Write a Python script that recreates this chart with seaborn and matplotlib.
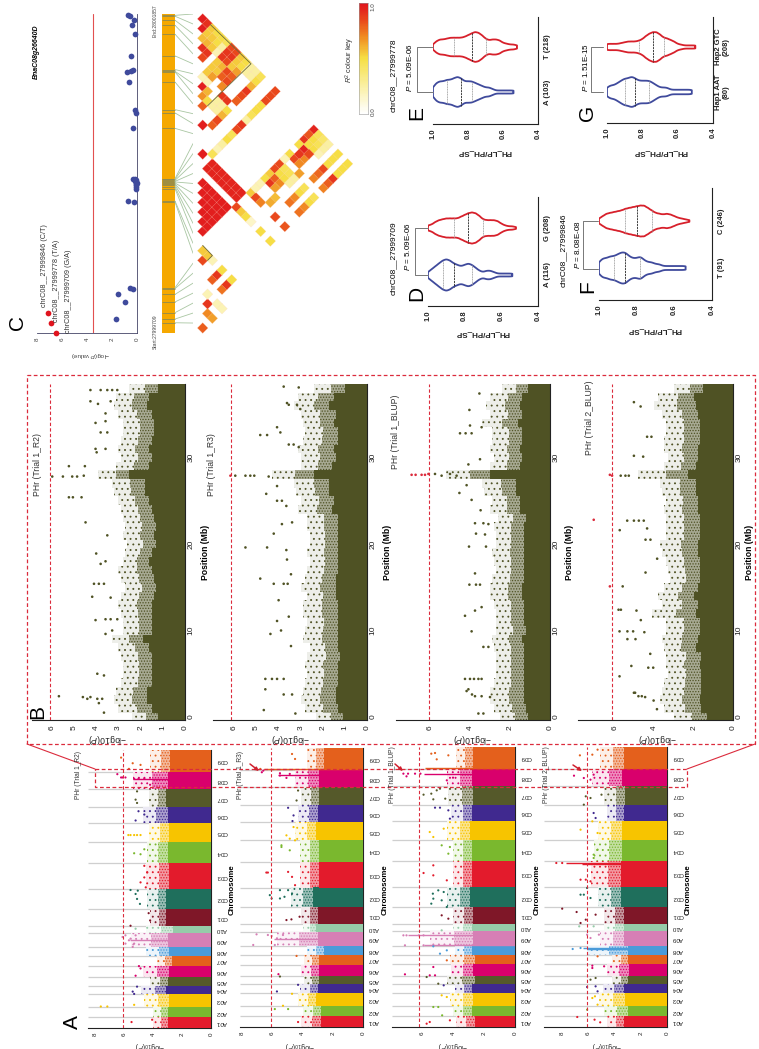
import numpy as np
import pandas as pd
import matplotlib
matplotlib.use("Agg")
import matplotlib.pyplot as plt
from matplotlib.colors import LinearSegmentedColormap, to_rgb
import seaborn as sns

W, H = 759, 1049

# chromosomes (panel A), sizes in Mb
chrom_names = ["A01", "A02", "A03", "A04", "A05", "A06", "A07", "A08", "A09", "A10",
               "C01", "C02", "C03", "C04", "C05", "C06", "C07", "C08", "C09"]
chrom_sizes = [32, 32, 38, 26, 26, 34, 29, 27, 43, 22, 51, 60, 78, 64, 56, 49, 55, 52, 66]
chrom_colors = ["#E31B2C", "#7AB82E", "#F7C400", "#40298F", "#55592A", "#D9006C", "#E4601C",
                "#4A9BD9", "#D67FB5", "#96CBA9", "#7F1728", "#1F6F5C", "#E31B2C", "#7AB82E",
                "#F7C400", "#40298F", "#55592A", "#D9006C", "#E4601C"]

# panel A: top of the solid band and of the speckled band, per chromosome
a1_solid = [3.0, 3.0, 2.9, 3.1, 3.0, 2.9, 2.7, 2.9, 3.0, 2.6, 3.1, 3.1, 2.9, 3.0, 2.9, 3.0, 3.1, 3.0, 2.8]
a1_fringe = [4.0, 4.0, 4.6, 4.8, 4.2, 4.7, 3.7, 4.5, 5.5, 4.5, 4.2, 4.4, 4.5, 4.4, 4.3, 4.7, 4.3, 5.4, 4.2]
a2_solid = [2.75, 2.75, 3.1, 3.0, 2.9, 2.9, 2.9, 2.6, 3.0, 3.1, 3.0, 3.3, 2.9, 2.9, 3.1, 3.0, 2.9, 2.9, 2.6]
a2_fringe = [4.1, 4.0, 4.3, 4.2, 3.9, 4.1, 3.9, 3.7, 5.7, 4.0, 4.1, 4.8, 4.2, 4.2, 4.5, 4.3, 4.1, 4.5, 3.7]
a3_solid = [2.6, 2.8, 2.7, 2.8, 2.6, 2.7, 2.6, 2.8, 2.7, 2.8, 2.7, 2.9, 2.8, 2.8, 2.9, 2.8, 2.7, 2.8, 2.7]
a3_fringe = [3.8, 4.0, 4.2, 3.9, 4.4, 4.1, 4.2, 3.9, 5.5, 4.0, 4.0, 4.4, 4.0, 4.0, 4.4, 4.1, 4.3, 4.4, 3.8]
a4_solid = [3.3, 3.0, 3.2, 3.3, 3.0, 2.9, 3.0, 3.0, 3.3, 3.3, 3.3, 3.5, 3.5, 3.4, 3.4, 3.3, 3.2, 3.4, 3.3]
a4_fringe = [4.6, 4.8, 5.2, 4.9, 4.2, 4.6, 4.2, 6.1, 5.1, 4.8, 4.8, 5.3, 5.8, 5.6, 5.3, 4.6, 4.8, 5.7, 5.1]

# panel A: single points (cumulative Mb, -log10 P)
a1_pos = [18, 25, 65, 65, 70, 103, 110, 125, 158, 187, 180, 255, 275, 280, 245, 265, 270, 255, 280,
          309, 300, 347, 325, 417, 405, 390, 415, 375, 490, 455, 425, 440, 470, 528, 525, 540,
          583, 583, 583, 583, 583, 627, 655, 645, 680, 690, 715, 757, 767, 757, 757, 753, 753,
          753, 735, 817, 783, 800, 795]
a1_val = [5.48, 4.06, 7.6, 7.15, 5.3, 5.3, 5.4, 5.1, 5.2, 4.97, 4.86, 5.9, 6.1, 5.9, 5.4, 5.66, 5.55, 5.3, 5.2,
          5.55, 5.2, 4.3, 4.2, 5.55, 5.2, 5.1, 5.05, 4.9, 4.6, 4.6, 4.5, 4.86, 4.4, 5.3, 4.86, 4.6,
          5.7, 5.55, 5.3, 5.1, 4.86, 5.2, 5.0, 4.6, 5.1, 5.2, 5.1, 6.2, 6.46, 6.1, 5.9, 5.3, 5.0,
          4.6, 4.2, 6.2, 5.66, 5.4, 4.86]
a2_pos = [15, 54, 54, 64, 100, 107, 127, 159, 152, 214, 247, 279, 277, 274, 247, 267, 277, 322, 324,
          332, 397, 387, 387, 392, 412, 402, 412, 465, 465, 467, 452, 427, 547, 542, 532, 562,
          577, 602, 567, 620, 660, 637, 682, 712, 777, 767, 772, 764, 750, 762, 757, 807, 822]
a2_val = [4.3, 4.96, 5.84, 5.3, 4.7, 5.7, 4.3, 5.6, 5.5, 4.4, 7.27, 7.05, 6.3, 6.05, 5.84, 5.7, 5.3, 5.07, 4.74,
          4.2, 6.17, 6.05, 5.5, 5.2, 4.96, 4.7, 5.5, 6.4, 6.3, 4.96, 4.7, 4.5, 5.4, 5.4, 4.85, 4.5,
          5.07, 4.6, 4.85, 4.67, 4.96, 4.6, 4.4, 4.3, 6.8, 6.7, 6.6, 5.5, 5.07, 4.85, 5.5, 4.5, 4.7]
a3_pos = [10, 15, 20, 60, 60, 35, 90, 95, 125, 130, 155, 150, 158, 155, 180, 200, 220, 230, 245, 245, 242,
          275, 275, 275, 275, 290, 335, 325, 370, 400, 385, 410, 380, 405, 360, 462, 455, 485, 440,
          540, 545, 520, 585, 570, 595, 658, 658, 650, 625, 697, 700, 683, 710, 685, 715,
          760, 752, 760, 760, 760, 740, 748, 822, 803, 820, 815]
a3_val = [5.7, 5.5, 4.2, 5.27, 4.95, 4.7, 4.4, 4.73, 4.6, 4.95, 5.16, 5.7, 7.1, 5.5, 5.27, 4.4, 4.84, 4.4, 7.1, 5.9, 5.27,
          7.2, 7.0, 6.2, 5.9, 4.73, 4.73, 4.3, 5.4, 5.3, 5.27, 4.95, 4.73, 4.6, 4.4, 5.9, 5.27, 5.27, 4.4,
          4.2, 4.73, 4.3, 5.5, 5.27, 4.6, 5.16, 4.84, 4.3, 4.2, 5.9, 5.4, 5.27, 5.05, 4.5, 4.84,
          7.2, 7.0, 6.9, 6.45, 6.1, 4.4, 4.0, 5.16, 5.05, 5.4, 4.3]
a4_pos = [30, 22, 14, 52, 87, 92, 67, 120, 122, 107, 142, 147, 184, 177, 212, 182, 234, 237, 277, 267, 277,
          302, 312, 302, 355, 345, 322, 337, 397, 397, 417, 387, 492, 492, 442, 442, 437, 517, 507, 532,
          592, 617, 582, 667, 642, 627, 692, 687, 697, 754, 747, 742, 757, 815, 817, 832]
a4_val = [6.85, 5.53, 5.1, 6.1, 5.7, 5.5, 5.3, 6.1, 5.45, 5.3, 5.84, 5.45, 5.7, 5.7, 5.3, 4.8, 7.2, 6.6, 6.1, 5.84, 5.2,
          6.7, 6.6, 5.6, 8.0, 6.9, 6.2, 5.45, 6.6, 6.35, 6.1, 5.84, 8.45, 8.0, 6.6, 6.2, 5.84, 5.6, 5.6, 5.3,
          6.6, 5.7, 5.3, 6.35, 5.6, 5.45, 6.2, 5.84, 5.0, 7.1, 6.35, 5.84, 5.6, 6.65, 5.7, 5.3]

# panel A: narrow peaks
a1_peak_pos, a1_peak_val = [267, 753], [5.6, 5.4]
a2_peak_pos, a2_peak_val = [265, 760, 778], [5.9, 5.6, 6.55]
a3_peak_pos, a3_peak_val = [245, 275, 760, 778], [5.9, 6.9, 5.9, 5.8]
a4_peak_pos, a4_peak_val = [234, 236, 490, 492], [6.1, 6.4, 6.5, 7.7]

# panel B: chromosome C08, one value per Mb from 0 to 38
b1_solid = [1.2, 1.5, 1.7, 1.7, 1.5, 1.5, 1.5, 1.5, 1.6, 1.9, 1.5, 1.5, 1.5, 1.5, 1.4, 1.3, 1.4, 1.5, 1.6, 1.5,
            1.3, 1.4, 1.3, 1.4, 1.5, 1.6, 1.8, 1.8, 2.5, 1.6, 1.5, 1.6, 1.5, 1.4, 1.4, 1.5, 1.7, 1.6, 1.2]
b1_fringe = [2.4, 3.0, 3.2, 3.1, 2.9, 2.8, 2.8, 2.9, 3.0, 3.3, 2.8, 2.8, 2.9, 3.0, 2.9, 2.7, 2.9, 3.0, 2.8, 2.7,
             2.6, 2.8, 2.7, 2.8, 2.9, 3.0, 3.2, 3.3, 3.9, 3.1, 2.9, 3.0, 2.9, 2.8, 2.8, 3.0, 3.2, 3.1, 2.5]
b2_solid = [1.1, 1.3, 1.4, 1.4, 1.3, 1.3, 1.3, 1.2, 1.3, 1.3, 1.3, 1.3, 1.3, 1.3, 1.4, 1.4, 1.4, 1.3, 1.3, 1.3,
            1.3, 1.3, 1.3, 1.3, 1.6, 1.5, 1.7, 1.7, 2.4, 1.6, 1.4, 1.5, 1.3, 1.3, 1.5, 1.4, 1.7, 1.5, 1.0]
b2_fringe = [2.3, 2.8, 3.0, 2.9, 2.8, 2.7, 2.8, 2.7, 2.6, 2.9, 2.8, 2.7, 2.9, 2.9, 2.7, 3.0, 2.8, 2.7, 2.6, 2.7,
             2.6, 2.6, 2.7, 2.7, 3.1, 3.0, 3.2, 3.3, 4.3, 3.0, 3.0, 3.1, 2.9, 2.8, 2.9, 3.0, 3.3, 3.1, 2.4]
b3_solid = [1.1, 1.2, 1.3, 1.3, 1.3, 1.3, 1.3, 1.3, 1.3, 1.4, 1.2, 1.3, 1.3, 1.3, 1.4, 1.4, 1.3, 1.3, 1.3, 1.3,
            1.3, 1.3, 1.3, 1.2, 1.5, 1.5, 1.7, 1.7, 3.0, 1.5, 1.4, 1.5, 1.4, 1.4, 1.6, 1.4, 1.5, 1.4, 1.1]
b3_fringe = [2.5, 2.8, 3.0, 3.0, 2.8, 2.7, 2.7, 2.7, 2.8, 2.9, 2.7, 2.7, 2.7, 2.8, 3.0, 3.0, 2.9, 2.7, 2.8, 2.9,
             2.7, 2.7, 2.8, 2.6, 3.0, 2.9, 3.3, 3.4, 5.2, 3.0, 2.8, 3.0, 2.9, 2.9, 3.4, 3.0, 3.2, 3.0, 2.4]
b4_solid = [1.3, 1.6, 1.7, 1.6, 1.6, 1.6, 1.7, 1.6, 1.9, 1.8, 1.7, 1.7, 1.9, 1.8, 2.0, 1.8, 1.7, 1.7, 1.7, 1.8,
            1.8, 1.7, 1.7, 1.7, 1.8, 1.8, 1.9, 1.9, 2.3, 1.9, 1.8, 1.8, 1.7, 1.7, 1.7, 1.8, 1.9, 2.0, 1.5]
b4_fringe = [3.0, 3.5, 3.7, 3.6, 3.5, 3.3, 3.4, 3.4, 3.5, 3.6, 3.4, 3.4, 4.1, 3.6, 3.8, 3.5, 3.2, 3.3, 3.4, 3.6,
             3.7, 3.4, 3.4, 3.4, 3.5, 3.4, 3.6, 3.7, 4.8, 3.5, 3.3, 3.5, 3.5, 3.4, 3.4, 3.6, 4.0, 3.8, 3.0]

# panel B: single points (Mb, -log10 P)
b1_mb = [37.8, 37.8, 37.8, 37.8, 37.8, 36.5, 36.2, 36.5, 35.1, 34.0, 34.2, 32.9, 32.9, 31.0, 30.6, 31.0, 29.0, 29.0,
         27.8, 27.8, 27.8, 27.8, 27.9, 25.4, 25.4, 25.4, 22.5, 18.9, 21.0, 17.7, 18.0, 15.4, 15.4, 15.4, 13.9, 13.8,
         11.2, 11.3, 11.3, 11.3, 9.6, 10.0, 5.0, 4.8, 2.4, 2.1, 2.1, 2.1, 2.3, 2.3, 1.6, 0.5]
b1_val = [4.26, 3.8, 3.5, 3.28, 3.05, 4.26, 3.92, 3.35, 3.58, 4.03, 3.58, 3.8, 3.5, 4.03, 3.98, 3.58, 5.23, 4.51,
          5.98, 5.5, 5.08, 4.86, 4.56, 5.23, 5.05, 4.66, 4.48, 4.0, 3.5, 3.8, 3.58, 4.1, 3.88, 3.65, 4.18, 3.35,
          4.03, 3.58, 3.35, 3.05, 3.58, 3.28, 3.95, 3.65, 5.68, 4.4, 3.95, 3.73, 4.6, 4.26, 3.88, 3.65]
b2_mb = [38.2, 38.1, 36.3, 36.1, 36.1, 35.6, 32.6, 32.6, 33.5, 32.9, 31.5, 31.5, 31.2, 27.9, 27.9, 27.9, 27.9, 27.9,
         27.8, 26.7, 25.8, 25.0, 25.0, 24.4, 22.3, 22.5, 21.2, 19.6, 19.6, 19.3, 18.2, 16.0, 15.4, 15.4, 15.4, 16.5,
         13.5, 9.6, 11.1, 10.0, 11.6, 8.2, 4.4, 4.4, 4.4, 4.4, 3.2, 2.6, 2.6, 0.8, 0.4]
b2_val = [3.77, 3.09, 3.62, 3.54, 3.17, 3.02, 4.83, 4.52, 4.07, 3.92, 3.54, 3.32, 3.09, 6.18, 5.96, 5.5, 5.28, 5.1,
          4.45, 4.07, 4.56, 4.07, 3.85, 3.65, 3.85, 3.39, 4.22, 5.5, 4.52, 3.65, 3.62, 4.83, 4.22, 3.77, 3.59, 3.44,
          4.0, 4.37, 4.07, 3.89, 3.54, 3.44, 4.6, 4.3, 4.07, 3.77, 4.6, 3.77, 3.39, 4.67, 3.24]
b3_mb = [28.0, 28.0, 28.0, 28.0, 28.1, 28.1, 27.9, 28.1, 27.9, 29.2, 29.8, 37.4, 35.5, 33.7, 32.8, 32.8, 32.8, 33.5,
         26.8, 25.9, 25.1, 23.9, 22.4, 22.4, 22.3, 21.2, 21.1, 19.7, 19.7, 16.6, 15.3, 15.3, 15.3, 11.7, 12.3, 12.7,
         9.9, 8.1, 8.1, 4.4, 4.4, 4.4, 4.4, 4.4, 3.2, 2.4, 2.4, 0.4, 0.4, 3.0, 2.6, 2.3]
b3_val = [6.92, 6.72, 6.42, 6.25, 6.08, 5.75, 5.42, 5.0, 4.67, 4.08, 3.5, 3.53, 4.03, 4.0, 4.5, 4.22, 3.92, 3.42,
          4.17, 4.53, 3.92, 3.47, 3.75, 3.33, 3.08, 3.7, 3.25, 4.05, 3.2, 3.75, 4.03, 3.7, 3.5, 4.25, 3.75, 3.42,
          3.92, 3.33, 3.08, 4.25, 4.0, 3.8, 3.58, 3.42, 4.08, 3.75, 3.42, 3.58, 3.33, 4.17, 3.9, 3.0]
b4_mb = [28.0, 27.9, 27.9, 27.9, 27.9, 36.4, 35.9, 30.2, 30.1, 32.4, 32.4, 22.8, 22.7, 22.7, 22.7, 22.7, 21.6, 21.8,
         20.5, 20.5, 18.3, 16.7, 15.1, 15.1, 12.4, 12.4, 12.3, 11.2, 9.9, 9.9, 9.9, 9.8, 9.0, 9.0, 5.9, 4.7, 2.8, 2.4,
         5.7, 5.7, 7.3, 2.8, 2.4, 2.3, 1.9, 0.9]
b4_val = [6.25, 6.14, 5.7, 5.46, 5.29, 5.03, 4.69, 5.03, 4.56, 4.36, 4.14, 7.07, 5.37, 5.03, 4.78, 4.53, 5.75, 4.36,
          4.44, 4.19, 3.85, 4.44, 6.25, 5.6, 5.81, 5.69, 4.9, 4.68, 5.76, 5.36, 5.07, 4.5, 5.36, 4.95, 5.16, 5.76, 5.03, 4.8,
          4.3, 4.05, 4.2, 4.97, 4.63, 4.46, 4.03, 3.86]

# panel C: association of the SNPs in the gene
c_sig_pos = [27999709, 27999778, 27999846]
c_sig_val = [6.45, 6.85, 7.15]
c_pos = [27999803, 27999918, 27999969, 28000008, 28000014, 28000591, 28000598, 28000681, 28000692,
         28000704, 28000712, 28000719, 28000726, 28000730, 28000737, 28000744, 28000748, 28001087,
         28001191, 28001213, 28001399, 28001467, 28001471, 28001483, 28001575, 28001721, 28001781,
         28001815, 28001842, 28001848]
c_val = [1.7, 1.0, 1.55, 0.3, 0.6, 0.27, 0.7, 0.05, 0.1, 0.05, 0.12, 0.03, 0.08, 0.15, 0.1, 0.2, 0.3, 0.35,
         0.1, 0.2, 0.65, 0.8, 0.45, 0.35, 0.5, 0.15, 0.4, 0.25, 0.55, 0.75]

# panel C: LD cells as (distance between the SNPs, middle of the pair, r2)
ld_low = [(0, 0, .8), (1, 3, .7), (2, 2, .65), (1, 5, .9), (1, 7, .2), (3, 5, .2), (4, 4, .2),
          (2, 10, .8), (3, 11, .9), (4, 12, .5), (4, 8, .75), (5, 9, .9), (6, 10, .5),
          (2, 14, .2), (0, 14, .85), (1, 15, .55), (0, 16, .55),
          (0, 20, .97), (0, 22, .97), (0, 24, .97), (0, 26, .97), (0, 28, .97), (0, 30, .97),
          (1, 21, .97), (1, 23, .97), (1, 25, .97), (1, 27, .97), (1, 29, .97),
          (2, 22, .97), (2, 24, .97), (2, 26, .97), (2, 28, .97), (3, 23, .97), (3, 25, .97), (3, 27, .97),
          (4, 24, .97), (4, 26, .97), (5, 25, .97),
          (7, 25, .85), (8, 24, .55), (9, 23, .5), (10, 22, .15), (12, 20, .5), (14, 18, .5), (15, 23, .85), (17, 21, .82)]
ld_mid = [(1, 33, .95), (2, 32, .95), (3, 31, .95), (4, 30, .95), (5, 29, .95), (6, 28, .95), (7, 27, .95),
          (2, 34, .95), (3, 33, .95), (4, 32, .95), (5, 31, .95), (6, 30, .95), (7, 29, .95), (8, 28, .95),
          (10, 28, .55), (11, 27, .85), (12, 26, .72), (11, 29, .2), (12, 30, .2), (13, 31, .5), (14, 32, .55),
          (14, 30, .9), (15, 31, .8), (16, 30, .7), (15, 29, .65), (15, 33, .85), (16, 34, .85),
          (16, 32, .5), (17, 33, .45), (17, 31, .5), (18, 32, .45), (19, 31, .25), (18, 30, .25), (20, 32, .65),
          (15, 27, .58), (14, 26, .62), (21, 29, .45), (20, 28, .5), (19, 27, .7), (18, 26, .75),
          (23, 27, .45), (22, 26, .5), (21, 25, .7), (20, 24, .75),
          (23, 31, .72), (24, 32, .78), (25, 33, .85), (26, 34, .5), (27, 35, .5), (28, 36, .5),
          (25, 29, .72), (26, 30, .8), (27, 31, .9), (28, 32, .5), (29, 33, .5), (30, 34, .5),
          (23, 41, .95), (21, 39, .9), (22, 40, .82), (20, 38, .5), (21, 37, .95), (22, 38, .5), (23, 39, .5),
          (24, 40, .45), (23, 37, .5), (24, 38, .45), (25, 39, .4), (26, 38, .25), (25, 37, .25), (24, 36, .2),
          (18, 36, .5), (19, 35, .85), (21, 35, .7), (20, 36, .9), (22, 36, .85), (20, 34, .7), (17, 35, .2)]
ld_high = [(0, 64, .97), (0, 62, .97), (0, 60, .58), (0, 58, .92), (0, 56, .85), (0, 52, .2), (0, 50, .97),
           (0, 48, .68), (0, 46, .8), (0, 42, .97), (0, 36, .97),
           (1, 63, .92), (1, 61, .55), (1, 59, .6), (1, 57, .9), (1, 49, .6), (1, 47, .5), (1, 53, .55), (1, 51, .2),
           (2, 62, .55), (3, 61, .5), (4, 60, .5), (5, 59, .45), (2, 60, .55), (3, 59, .5), (4, 58, .25),
           (2, 58, .55), (3, 57, .2), (6, 58, .85), (5, 57, .9), (7, 57, .85), (4, 56, .9), (6, 56, .9), (5, 55, .85),
           (8, 56, .55), (9, 55, .5), (7, 55, .55), (8, 54, .5), (6, 54, .55), (7, 53, .65),
           (2, 54, .55), (3, 55, .55), (4, 54, .6), (3, 53, .55), (2, 52, .65),
           (5, 53, .85), (4, 52, .8), (6, 52, .8), (5, 51, .85), (4, 50, .7),
           (9, 53, .25), (10, 54, .25), (11, 53, .25), (10, 52, .25), (12, 52, .45), (11, 51, .5), (10, 50, .6),
           (4, 48, .9), (5, 47, .9), (9, 49, .9), (8, 48, .85), (7, 47, .8),
           (15, 49, .85), (14, 48, .85), (13, 47, .85), (12, 46, .5), (11, 45, .5), (10, 44, .45), (9, 43, .25),
           (8, 42, .9), (7, 41, .85), (6, 40, .45), (5, 39, .5),
           (2, 46, .25), (3, 47, .25), (3, 45, .25), (4, 46, .25), (5, 45, .5), (4, 44, .6),
           (2, 42, .8), (3, 43, .85), (4, 38, .25), (3, 37, .2), (2, 36, .45)]

# panels D-G: how many lines fall in each PH ratio class
ratio_bins = [1.0, .98, .96, .94, .92, .90, .88, .86, .84, .82, .80, .78, .76, .74, .72, .70, .68, .66, .64, .62,
              .60, .58, .56, .54, .52, .50]
d_a = [2, 4, 6, 8, 10, 11, 10, 8, 7, 6, 7, 8, 7, 5, 3, 2, 3, 3, 2, 1, 1, 1, 1, 1, 0, 0]
d_g = [3, 4, 7, 9, 10, 11, 11, 11, 11, 13, 15, 17, 18, 17, 14, 10, 9, 9, 9, 8, 5, 3, 2, 2, 1, 0]
e_a = [3, 6, 7, 7, 8, 8, 9, 10, 9, 7, 7, 7, 6, 5, 4, 3, 3, 2, 1, 1, 1, 1, 1, 1, 0, 0]
e_t = [3, 7, 9, 9, 10, 11, 11, 11, 11, 12, 14, 16, 18, 17, 14, 10, 8, 9, 9, 8, 5, 4, 3, 3, 2, 0]
f_t = [3, 5, 5, 6, 6, 7, 8, 8, 6, 5, 5, 6, 4, 3, 3, 2, 2, 1, 1, 1, 1, 1, 1, 1, 0, 0]
f_c = [3, 6, 9, 10, 11, 12, 13, 15, 16, 17, 18, 19, 19, 16, 13, 10, 9, 8, 9, 8, 6, 4, 3, 2, 1, 0]
g_1 = [2, 3, 3, 4, 5, 6, 6, 7, 6, 5, 5, 5, 5, 4, 3, 2, 2, 2, 1, 1, 1, 1, 1, 1, 1, 0]
g_2 = [4, 4, 4, 4, 5, 6, 7, 7, 7, 8, 10, 14, 17, 19, 19, 16, 12, 11, 9, 7, 4, 3, 2, 2, 2, 2]

OLIVE = "#4F5224"
RED = "#DB2B3C"
BLUE = "#3F4A9C"
VRED = "#D7202B"

sns.set_theme(style="white")
plt.rcParams["font.family"] = ["Liberation Sans", "DejaVu Sans"]
plt.rcParams["mathtext.fontset"] = "custom"
plt.rcParams["mathtext.rm"] = "Liberation Sans"
plt.rcParams["mathtext.it"] = "Liberation Sans:italic"
plt.rcParams["hatch.linewidth"] = 0.6

fig = plt.figure(figsize=(W / 100, H / 100), dpi=100, facecolor="white")


def px_axes(x0, y0, x1, y1):
    ax = fig.add_axes([x0 / W, 1 - y1 / H, (x1 - x0) / W, (y1 - y0) / H])
    ax.patch.set_alpha(0)
    return ax


def tint(color, amount):
    # colour mixed with white, for the bands under the speckle
    return tuple(1 - (1 - c) * amount for c in to_rgb(color))


def style_ticks(ax, size=4.5, col="#222222"):
    ax.tick_params(axis="both", length=2, width=0.6, pad=1.5, labelsize=size, colors=col)
    for s in ax.spines.values():
        s.set_linewidth(0.8)
        s.set_color("#222222")


# ---- panel A ----
starts = np.concatenate([[0], np.cumsum(chrom_sizes)[:-1]])
sizes = np.array(chrom_sizes)
ends = starts + sizes
mids = starts + sizes / 2


def manhattan(rect, zero, unit, solid, fringe, pos, val, peak_pos, peak_val, ticks, thresh):
    x0, y0, y1 = rect
    ax = px_axes(x0, y0, zero, y1)
    solid = np.array(solid)
    fringe = np.array(fringe)
    half = solid + (fringe - solid) * 0.45
    ax.hlines(ends[:-1], 0, (zero - x0) / unit, color="#cfcfcf", lw=0.9, zorder=0)
    ax.barh(mids, solid, height=sizes, color=chrom_colors, linewidth=0, zorder=3)
    for i in range(len(sizes)):
        c = chrom_colors[i]
        ax.barh(mids[i], half[i] - solid[i], left=solid[i], height=sizes[i], facecolor=tint(c, 0.45),
                edgecolor=c, hatch="......", linewidth=0, zorder=2)
        ax.barh(mids[i], fringe[i] - half[i], left=half[i], height=sizes[i], facecolor=tint(c, 0.1),
                edgecolor=c, hatch="...", linewidth=0, zorder=2)
    df = pd.DataFrame({"pos": pos, "val": val})
    df["chrom"] = [chrom_names[i] for i in np.searchsorted(ends, df["pos"], side="right")]
    sns.scatterplot(data=df, x="val", y="pos", hue="chrom", palette=dict(zip(chrom_names, chrom_colors)),
                    s=2.5, linewidth=0, legend=False, ax=ax, zorder=4)
    for p, v in zip(peak_pos, peak_val):
        ax.hlines(p, 0, v, color=chrom_colors[np.searchsorted(ends, p, side="right")], lw=1.0, zorder=3)
    ax.axvline(thresh, color=RED, lw=0.8, ls=(0, (3, 2)), zorder=5)
    ax.set_xlim((zero - x0) / unit, 0)
    ax.set_ylim(0, sum(chrom_sizes))
    ax.set(xlabel=None, ylabel=None)
    ax.yaxis.tick_right()
    ax.set_yticks(mids, labels=chrom_names, rotation=180, va="center")
    ax.set_xticks(ticks, labels=[str(t) for t in ticks], rotation=90, ha="center")
    sns.despine(ax=ax, left=True, top=True, right=False, bottom=False)
    style_ticks(ax)


manhattan((88, 750, 1028), 211, 14.5, a1_solid, a1_fringe, a1_pos, a1_val, a1_peak_pos, a1_peak_val, [0, 2, 4, 6, 8], 6.1)
manhattan((240, 748, 1027), 363, 15.1, a2_solid, a2_fringe, a2_pos, a2_val, a2_peak_pos, a2_peak_val, [0, 2, 4, 6, 8], 6.1)
manhattan((392, 747, 1027), 515, 15.5, a3_solid, a3_fringe, a3_pos, a3_val, a3_peak_pos, a3_peak_val, [0, 2, 4, 6], 6.2)
manhattan((544, 747, 1027), 667, 13.1, a4_solid, a4_fringe, a4_pos, a4_val, a4_peak_pos, a4_peak_val, [0, 2, 4, 6, 8], 6.1)


# ---- panel B ----
def c08_panel(x0, zero, unit, solid, fringe, mb, val, ticks, thresh):
    ax = px_axes(x0, 384, zero, 720)
    edges = np.arange(len(solid) + 1) - 0.5
    solid = np.append(solid, solid[-1])
    fringe = np.append(fringe, fringe[-1])
    half = solid + (fringe - solid) * 0.45
    ax.fill_betweenx(edges, half, fringe, step="post", facecolor=tint(OLIVE, 0.1), edgecolor=OLIVE, hatch="...",
                     linewidth=0, zorder=1)
    ax.fill_betweenx(edges, solid, half, step="post", facecolor=tint(OLIVE, 0.5), edgecolor=OLIVE, hatch="......",
                     linewidth=0, zorder=1)
    ax.fill_betweenx(edges, 0, solid, step="post", color=OLIVE, linewidth=0, zorder=2)
    df = pd.DataFrame({"mb": mb, "val": val})
    df["hit"] = df["val"] > thresh - 0.05
    sns.scatterplot(data=df, x="val", y="mb", hue="hit", palette={True: RED, False: OLIVE}, s=3.5, linewidth=0,
                    legend=False, ax=ax, zorder=3)
    ax.axvline(thresh, color=RED, lw=0.8, ls=(0, (3, 2)), zorder=4)
    ax.set_xlim((zero - x0) / unit, 0)
    ax.set_ylim(-0.35, 38.5)
    ax.set(xlabel=None, ylabel=None)
    ax.yaxis.tick_right()
    ax.set_yticks([0, 10, 20, 30], labels=["0", "10", "20", "30"], rotation=90, va="center")
    ax.set_xticks(ticks, labels=[str(t) for t in ticks], rotation=90, ha="center")
    sns.despine(ax=ax, left=True, top=True, right=False, bottom=False)
    style_ticks(ax, size=6)
    ax.tick_params(axis="y", length=1.5, pad=0.5)
    ax.tick_params(axis="x", length=2.5)


c08_panel(32, 185, 22.2, b1_solid, b1_fringe, b1_mb, b1_val, [0, 1, 2, 3, 4, 5, 6], 6.1)
c08_panel(213, 367, 22.1, b2_solid, b2_fringe, b2_mb, b2_val, [0, 1, 2, 3, 4, 5, 6], 6.15)
c08_panel(396, 550, 20.0, b3_solid, b3_fringe, b3_mb, b3_val, [0, 2, 4, 6], 6.05)
c08_panel(578, 733, 19.7, b4_solid, b4_fringe, b4_mb, b4_val, [0, 2, 4, 6], 6.15)

# ---- panel C ----
all_pos = c_sig_pos + c_pos
span = (27999709, 28001857)
ax = px_axes(37, 14, 137, 333)
ax.axvline(3.5, color="#E25050", lw=0.8, zorder=1)
sns.scatterplot(x=c_val, y=c_pos, color=BLUE, s=17, linewidth=0, legend=False, ax=ax, zorder=3, clip_on=False)
sns.scatterplot(x=c_sig_val, y=c_sig_pos, color="#E0141E", s=17, linewidth=0, legend=False, ax=ax, zorder=3, clip_on=False)
ax.set_xlim(8, 0)
ax.set_ylim(*span)
ax.set(xlabel=None, ylabel=None)
ax.set_yticks([])
ax.set_xticks([0, 2, 4, 6, 8], labels=["0", "2", "4", "6", "8"], rotation=90, ha="center")
sns.despine(ax=ax, left=True, top=True, right=False, bottom=False)
style_ticks(ax, size=4.5, col="#444444")
for s in ax.spines.values():
    s.set_linewidth(0.6)
    s.set_color("#444466")

# gene bar and the lines that join the SNPs to the LD triangle
ax = px_axes(162, 14, 193, 333)
ax.set_xlim(0, 31)
ax.set_ylim(*span)
ax.axis("off")
ax.axvspan(0, 13, color="#F5A800", lw=0)
snps = sorted(all_pos)
ax.hlines(snps, 0, 13, color="#8E8A50", lw=0.6)
base = np.linspace(span[0], span[1], len(snps))
for p, b in zip(snps, base):
    ax.plot([13, 31], [p, b], color="#A9C6A2", lw=0.6)

# LD triangle
ld_cells = ld_low + ld_mid + ld_high
ld = pd.DataFrame(ld_cells, columns=["lag", "mid", "r2"])
r2_cmap = LinearSegmentedColormap.from_list(
    "r2", [(0, "#FFFFFF"), (.2, "#FBF3B5"), (.5, "#F6DF45"), (.7, "#F08A22"), (.85, "#E9481C"), (1, "#E0141E")])
ax = px_axes(195, 8, 372, 340)
sns.scatterplot(data=ld, x="lag", y="mid", hue="r2", palette=r2_cmap, hue_norm=(0, 1), marker="D", s=30,
                edgecolor="#FFD9C8", linewidth=0.15, legend=False, ax=ax)
ax.plot([1.6, 10, 1], [62.8, 54.7, 46], color="#6B6B3A", lw=0.6)
ax.plot([0, 2, 1], [17.1, 15, 14], color="#6B6B3A", lw=0.6)
ax.set_xlim((195 - 202.7) / 4.83, (372 - 202.7) / 4.83)
ax.set_ylim((328 - 340) / 4.83, (328 - 8) / 4.83)
ax.axis("off")

# R2 colour key
ax = px_axes(359, 3, 368, 114)
key = np.linspace(1, 0, 100).reshape(-1, 1)
sns.heatmap(key, cmap=r2_cmap, vmin=0, vmax=1, cbar=False, xticklabels=False, yticklabels=False, ax=ax)
for s in ax.spines.values():
    s.set_visible(True)
    s.set_linewidth(0.4)
    s.set_color("#999999")


# ---- panels D-G ----
def ratio_violin(rect, lower, upper, names, labels, y_lo, y_up, rows_font=5.5):
    x0, y0, x1, y1 = rect
    df = pd.DataFrame({
        "ratio": np.repeat(ratio_bins * 2, np.concatenate([upper, lower])),
        "group": np.repeat([names[1], names[0]], [sum(upper), sum(lower)]),
    })
    ax = px_axes(x0, y0, x1, y1)
    sns.violinplot(data=df, x="ratio", y="group", order=[names[1], names[0]], hue="group",
                   hue_order=[names[1], names[0]], palette={names[1]: VRED, names[0]: BLUE}, fill=False,
                   inner="quart", cut=0, bw_adjust=0.3, density_norm="width", width=0.66, linewidth=1.3,
                   legend=False, orient="h", ax=ax)
    for i, line in enumerate(ax.lines):
        line.set_color("#222222" if i % 3 == 1 else "#999999")
        line.set_linewidth(0.6)
    ax.set_xlim(1.0, 0.4)
    gap = y_lo - y_up
    ax.set_ylim((y1 - y_up) / gap, (y0 - y_up) / gap)
    ax.set(xlabel=None, ylabel=None)
    ax.yaxis.tick_right()
    ax.set_yticks([0, 1], labels=[labels[1], labels[0]], rotation=90, va="center", ha="center",
                  fontweight="bold", linespacing=1.1)
    ax.set_xticks([1.0, 0.8, 0.6, 0.4], labels=["1.0", "0.8", "0.6", "0.4"], rotation=90, ha="center")
    sns.despine(ax=ax, left=True, top=True, right=False, bottom=False)
    style_ticks(ax, size=rows_font)
    ax.tick_params(axis="x", labelsize=5.5)
    ax.tick_params(axis="y", pad=5)
    for t in ax.get_xticklabels():
        t.set_fontweight("bold")


ratio_violin((428, 197, 538, 306), d_a, d_g, ["A", "G"], ["A (116)", "G (208)"], 275, 228)
ratio_violin((433, 17, 538, 124), e_a, e_t, ["A", "T"], ["A (103)", "T (218)"], 92, 47)
ratio_violin((599, 188, 712, 300), f_t, f_c, ["T", "C"], ["T (91)", "C (246)"], 268, 221)
ratio_violin((607, 17, 713, 123), g_1, g_2, ["Hap1", "Hap2"], ["Hap1 AAT\n(80)", "Hap2 GTC\n(208)"], 92, 47)

# ---- everything placed straight on the page ----
ov = px_axes(0, 0, W, H)
ov.set_xlim(0, W)
ov.set_ylim(H, 0)
ov.axis("off")
ov.set_zorder(20)


def label(x, y, s, rot=90, size=5, **kw):
    kw.setdefault("color", "#222222")
    ov.text(x, y, s, rotation=rot, fontsize=size, ha="center", va="center", **kw)


for x, y, s in [(72, 1022, "A"), (38, 712, "B"), (18, 323, "C"), (417, 293, "D"), (417, 113, "E"), (588, 287, "F"), (588, 113, "G")]:
    label(x, y, s, size=15, color="black")

# panel A labels
for x, s in [(78, "PHr (Trial 1_R2)"), (241, "PHr (Trial 1_R3)"), (392, "PHr (Trial 1_BLUP)"), (547, "PHr (Trial 2_BLUP)")]:
    label(x, 775, s, size=4.8, color="#333333")
for x in [150, 300, 453, 607]:
    label(x, 1045, r"$-$log$_{10}$($P$)", rot=180, size=5)
for x in [232, 385, 537, 688]:
    label(x, 890, "Chromosome", size=5.7, fontweight="bold", color="black")

# panel B labels
for x, y, s in [(38, 465, "PHr (Trial 1_R2)"), (212, 465, "PHr (Trial 1_R3)"), (396, 432, "PHr (Trial 1_BLUP)"), (589, 418, "PHr (Trial 2_BLUP)")]:
    label(x, y, s, size=6.2, color="#333333")
for x in [107, 290, 472, 657]:
    label(x, 738, r"$-$log10($P$)", rot=180, size=6.2)
for x in [205, 388, 569, 749]:
    label(x, 552, "Position (Mb)", size=6.2, fontweight="bold", color="black")

# red frame around panel B and its link to C08
dash = (0, (3, 2))
ov.plot([27, 755, 755, 27, 27], [375, 375, 744, 744, 375], color=RED, lw=0.9, ls=dash)
ov.plot([95, 687, 687, 95, 95], [769, 769, 787, 787, 769], color=RED, lw=0.9, ls=dash)
ov.plot([27, 95], [744, 769], color=RED, lw=0.8)
ov.plot([755, 687], [744, 769], color=RED, lw=0.8)
for x0, y0, x1, y1 in [(250, 764, 259, 771), (395, 764, 403, 771), (573, 765, 582, 771)]:
    ov.annotate("", xy=(x1, y1), xytext=(x0, y0),
                arrowprops=dict(arrowstyle="-|>", color="#D0202E", lw=1.1, mutation_scale=5, shrinkA=0, shrinkB=0))

# panel C labels
label(36, 52, "BnaC08g26640D", size=5, fontweight="bold", fontstyle="italic", color="black")
label(44, 266, "chrC08__27999846 (C/T)", size=5.2, color="#333333")
label(57, 281, "chrC08__27999778 (T/A)", size=5.2, color="#333333")
label(68, 291, "chrC08__27999709 (G/A)", size=5.2, color="#333333")
label(90, 354, r"$-$log($P$ value)", rot=180, size=4.6, color="#444444")
label(155, 332, "Start:27999709", size=3.6, color="#444444")
label(155, 21, "End:28001857", size=3.6, color="#444444")
label(350, 60, r"$R^2$ colour key", size=5.3, color="#333333")
label(373, 7, "1.0", size=4.5, color="#444444")
label(373, 112, "0.0", size=4.5, color="#444444")

# panels D-G labels
for x, y, s in [(393, 258, "chrC08__27999709"), (393, 75, "chrC08__27999778"), (563, 250, "chrC08__27999846")]:
    label(x, y, s, size=6, color="black")
for x, y, s in [(407, 247, r"$P$ = 5.09E-06"), (410, 68, r"$P$ = 5.09E-06"), (577, 245, r"$P$ = 8.08E-08"), (585, 68, r"$P$ = 1.51E-15")]:
    label(x, y, s, size=5.8, color="black")
for x, y in [(482, 333), (485, 152), (655, 330), (660, 152)]:
    label(x, y, "PH_LP/PH_SP", rot=180, size=5.8, fontweight="bold")
for xl, xe, yu, yl in [(415, 428, 228, 275), (417, 433, 47, 92), (583, 598, 221, 269), (591, 603, 47, 92)]:
    ov.plot([xe, xl, xl, xe], [yu, yu, yl, yl], color="#777777", lw=0.7)

fig.savefig("out.png", dpi=100)
